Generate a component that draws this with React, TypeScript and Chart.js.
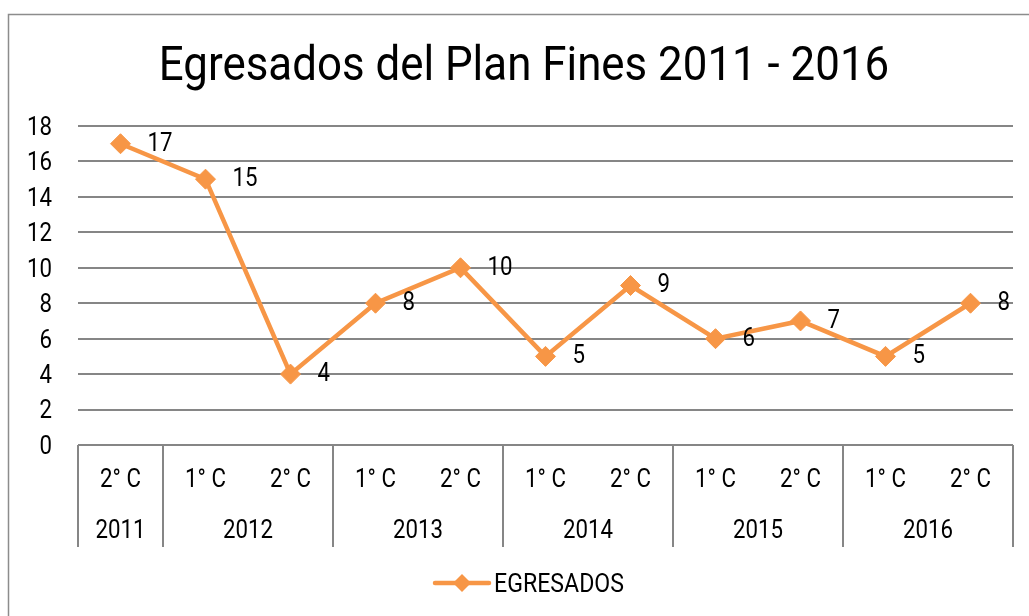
import React, { useEffect, useRef } from "react";
import Chart from "chart.js/auto";

const periods = ["2° C", "1° C", "2° C", "1° C", "2° C", "1° C", "2° C", "1° C", "2° C", "1° C", "2° C"];
const years = ["2011", "2012", "2012", "2013", "2013", "2014", "2014", "2015", "2015", "2016", "2016"];
const egresados = [17, 15, 4, 8, 10, 5, 9, 6, 7, 5, 8];
const seriesName = "EGRESADOS";
const title = "Egresados del Plan Fines 2011 - 2016";

const ORANGE = "#F79646";
const GRID = "#868686";
const FONT = "Roboto, 'Noto Sans', sans-serif";
const SX = 0.89;
const TITLE_SX = 0.895;

function txt(ctx: CanvasRenderingContext2D, s: string, x: number, yCenter: number, size: number, align: CanvasTextAlign) {
  ctx.save();
  ctx.font = `${size}px ${FONT}`;
  ctx.textBaseline = "alphabetic";
  ctx.fillStyle = "#000";
  ctx.translate(x, yCenter + 0.355 * size);
  ctx.scale(SX, 1);
  ctx.textAlign = align;
  ctx.fillText(s, 0, 0);
  ctx.restore();
}

const decor = {
  id: "decor",
  afterDraw(chart: any) {
    const ctx: CanvasRenderingContext2D = chart.ctx;
    const x = chart.scales.x;
    const y = chart.scales.y;
    const area = chart.chartArea;

    // outer border
    ctx.save();
    ctx.strokeStyle = "#8c8c8c";
    ctx.lineWidth = 1.5;
    ctx.strokeRect(8.5, 14.5, 1200, 800);
    ctx.restore();

    // title
    ctx.save();
    ctx.font = `49px ${FONT}`;
    ctx.fillStyle = "#000";
    ctx.textAlign = "center";
    ctx.translate(524, 80);
    ctx.scale(TITLE_SX, 1);
    ctx.fillText(title, 0, 0);
    ctx.restore();

    // y tick labels
    y.ticks.forEach((t: any) => {
      txt(ctx, String(t.value), area.left - 26, y.getPixelForValue(t.value), 25, "right");
    });

    // category axis
    const n = periods.length;
    const cw = (area.right - area.left) / n;
    const axisBottom = area.bottom + 102;
    ctx.save();
    ctx.strokeStyle = GRID;
    ctx.lineWidth = 2;
    const edges: number[] = [];
    for (let i = 0; i < n; i++) {
      if (i === 0 || years[i] !== years[i - 1]) edges.push(x.getPixelForValue(i) - cw / 2);
    }
    edges.push(x.getPixelForValue(n - 1) + cw / 2);
    edges.forEach((ex) => {
      ctx.beginPath();
      ctx.moveTo(Math.round(ex), area.bottom);
      ctx.lineTo(Math.round(ex), axisBottom);
      ctx.stroke();
    });
    ctx.restore();
    for (let i = 0; i < n; i++) {
      txt(ctx, periods[i], x.getPixelForValue(i), area.bottom + 33, 25, "center");
    }
    let start = 0;
    for (let i = 1; i <= n; i++) {
      if (i === n || years[i] !== years[start]) {
        const cx = (x.getPixelForValue(start) + x.getPixelForValue(i - 1)) / 2;
        txt(ctx, years[start], cx, area.bottom + 84, 25, "center");
        start = i;
      }
    }

    // data labels
    const meta = chart.getDatasetMeta(0);
    meta.data.forEach((pt: any, i: number) => {
      txt(ctx, String(egresados[i]), pt.x + 27, pt.y - 2, 25, "left");
    });

    // legend
    const ly = area.bottom + 138;
    ctx.save();
    ctx.strokeStyle = ORANGE;
    ctx.lineWidth = 4.5;
    ctx.lineCap = "round";
    ctx.beginPath();
    ctx.moveTo(435, ly);
    ctx.lineTo(489, ly);
    ctx.stroke();
    ctx.fillStyle = ORANGE;
    ctx.beginPath();
    ctx.moveTo(462 - 9, ly);
    ctx.lineTo(462, ly - 9);
    ctx.lineTo(462 + 9, ly);
    ctx.lineTo(462, ly + 9);
    ctx.closePath();
    ctx.fill();
    ctx.restore();
    txt(ctx, seriesName, 494, ly, 26, "left");
  },
};

export default function App() {
  const ref = useRef<HTMLCanvasElement>(null);
  useEffect(() => {
    if (!ref.current) return;
    const chart = new Chart(ref.current, {
      type: "line",
      data: {
        labels: periods,
        datasets: [
          {
            label: seriesName,
            data: egresados,
            borderColor: ORANGE,
            backgroundColor: ORANGE,
            borderWidth: 4.5,
            pointStyle: "rectRot",
            pointRadius: 10,
            pointHoverRadius: 10,
            pointBackgroundColor: ORANGE,
            pointBorderColor: ORANGE,
            pointBorderWidth: 1,
            tension: 0,
          },
        ],
      },
      options: {
        responsive: false,
        animation: false,
        events: [],
        layout: { padding: { left: 78, top: 126, right: 16, bottom: 171 } },
        plugins: { legend: { display: false }, title: { display: false }, tooltip: { enabled: false } },
        scales: {
          x: {
            offset: true,
            grid: { display: false },
            border: { display: false },
            ticks: { display: false },
            afterFit: (s: any) => { s.height = 0; },
          },
          y: {
            min: 0,
            max: 18,
            ticks: { display: false, stepSize: 2 },
            border: { display: false },
            grid: { color: GRID, lineWidth: 2, drawTicks: false },
            afterFit: (s: any) => { s.width = 0; },
          },
        },
      },
      plugins: [decor],
    });
    return () => chart.destroy();
  }, []);
  return (
    <div style={{ position: "fixed", left: 0, top: 0, width: 1029, height: 616, background: "#fff" }}>
      <canvas ref={ref} width={1029} height={616} style={{ width: 1029, height: 616 }} />
    </div>
  );
}
